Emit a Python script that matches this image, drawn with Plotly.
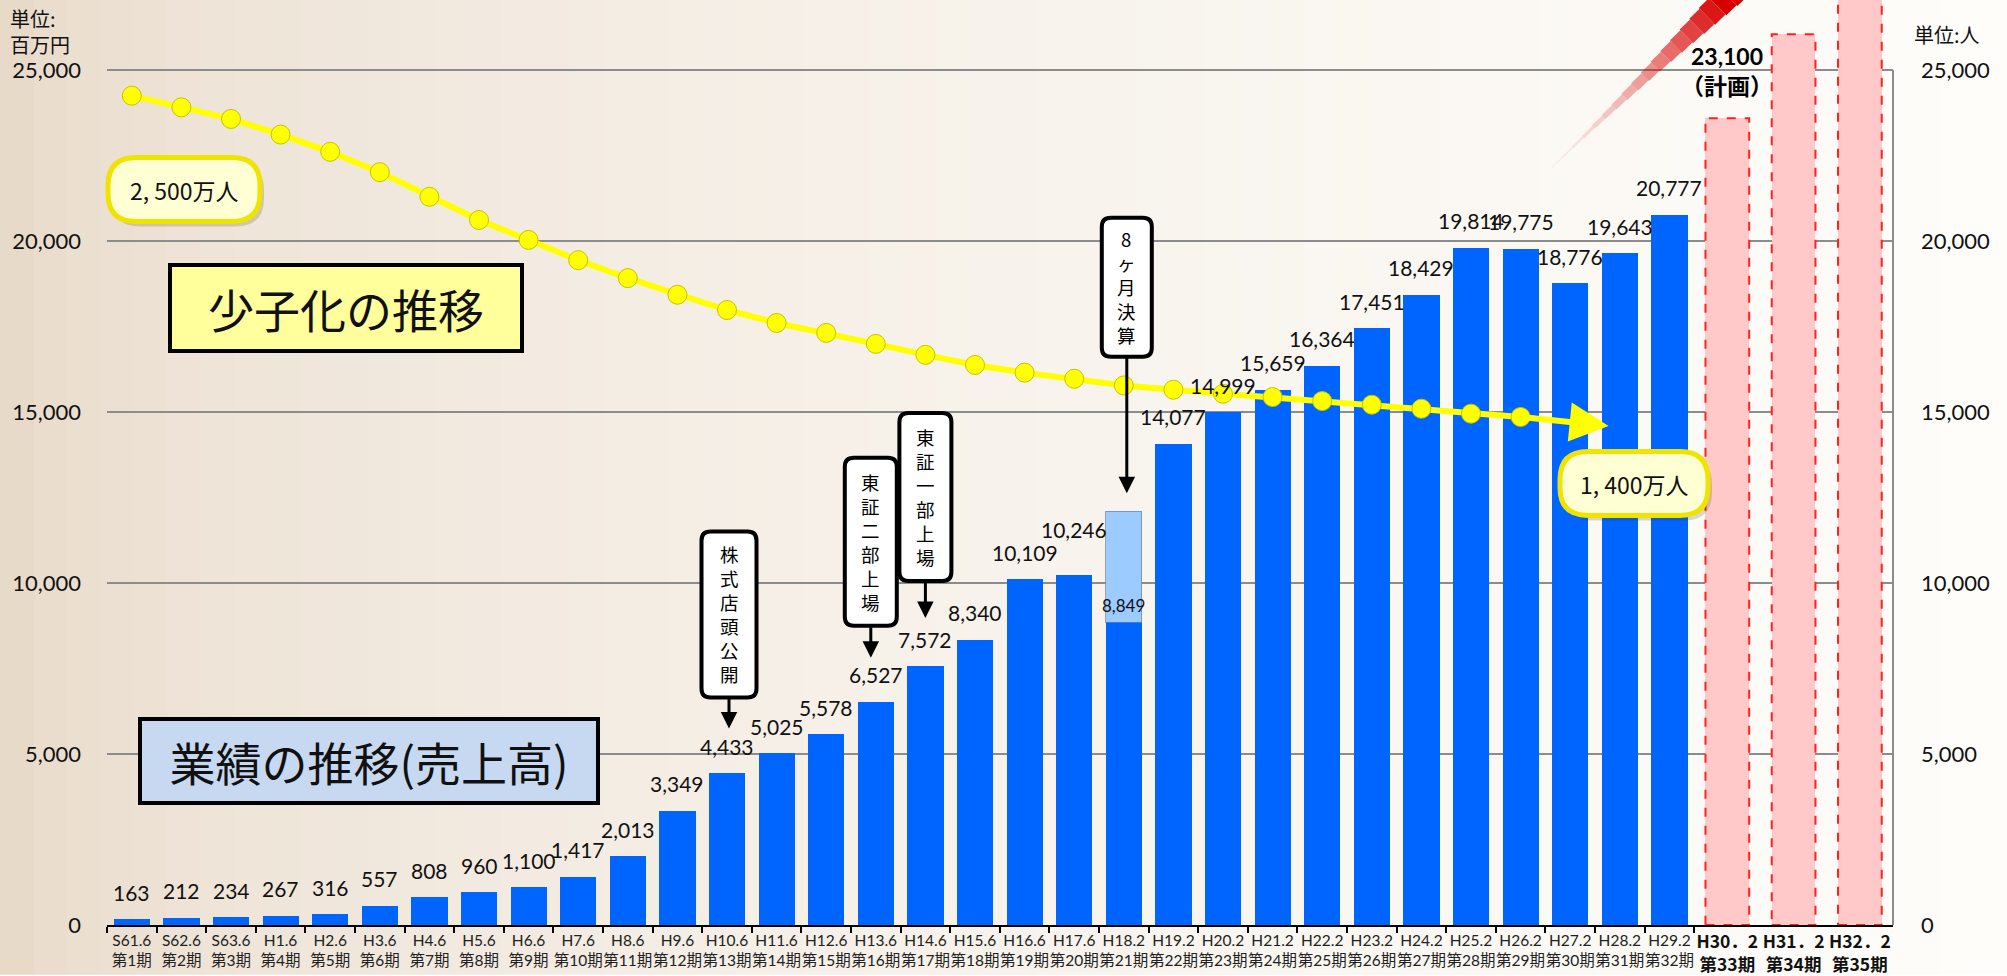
import plotly.graph_objects as go

# ---------------- data ----------------
periods = ["S61.6", "S62.6", "S63.6", "H1.6", "H2.6", "H3.6", "H4.6", "H5.6", "H6.6", "H7.6",
           "H8.6", "H9.6", "H10.6", "H11.6", "H12.6", "H13.6", "H14.6", "H15.6", "H16.6", "H17.6",
           "H18.2", "H19.2", "H20.2", "H21.2", "H22.2", "H23.2", "H24.2", "H25.2", "H26.2", "H27.2",
           "H28.2", "H29.2"]
terms = ["第1期", "第2期", "第3期", "第4期", "第5期", "第6期", "第7期", "第8期", "第9期", "第10期",
         "第11期", "第12期", "第13期", "第14期", "第15期", "第16期", "第17期", "第18期", "第19期", "第20期",
         "第21期", "第22期", "第23期", "第24期", "第25期", "第26期", "第27期", "第28期", "第29期", "第30期",
         "第31期", "第32期"]
sales = [163, 212, 234, 267, 316, 557, 808, 960, 1100, 1417,
         2013, 3349, 4433, 5025, 5578, 6527, 7572, 8340, 10109, 10246,
         8849, 14077, 14999, 15659, 16364, 17451, 18429, 19814, 19775, 18776,
         19643, 20777]

# 8-month fiscal period (H18.2): full-year-equivalent height drawn as light box
partial_period = "H18.2"
partial_full_height = 12100

plan_periods = ["H30．2", "H31．2", "H32．2"]
plan_terms = ["第33期", "第34期", "第35期"]
plan_values = [23600, 26050, 28500]
plan_label = "23,100"

# population trend (drawn on right axis scale), one point per period from S61.6 to H28.2
population = [24257, 23916, 23577, 23120, 22615, 22020, 21300, 20621, 20038, 19446,
              18921, 18435, 17988, 17609, 17318, 16997, 16676, 16381, 16157, 15977,
              15782, 15656, 15539, 15442, 15325, 15219, 15102, 14956, 14859]

y_ticks = [0, 5000, 10000, 15000, 20000, 25000]

# ---------------- geometry helpers (page pixels -> paper) ----------------
W, H = 2007, 976
PL, PR, PT, PB = 107, 1893, 0, 928
D1 = 32 * 49.6 / (PR - PL)
Y_MAX = (PB - PT) / 171.5 * 5000


def px(x):
    return (x - PL) / (PR - PL)


def py(y):
    return (PB - y) / (PB - PT)


def rr_path(cx, cy, w, h, r):
    x0, x1 = cx - w / 2, cx + w / 2
    y0, y1 = cy - h / 2, cy + h / 2
    return (f"M{x0 + r},{y0} L{x1 - r},{y0} Q{x1},{y0} {x1},{y0 + r} "
            f"L{x1},{y1 - r} Q{x1},{y1} {x1 - r},{y1} L{x0 + r},{y1} "
            f"Q{x0},{y1} {x0},{y1 - r} L{x0},{y0 + r} Q{x0},{y0} {x0 + r},{y0} Z")


LAT = "Lato, 'Noto Sans CJK JP', sans-serif"
JP = "'Noto Sans CJK JP', sans-serif"

fig = go.Figure()

# blue sales bars
fig.add_trace(go.Bar(x=periods, y=sales, width=0.73, marker=dict(color="#0064ff", line=dict(width=0)),
                     xaxis="x", yaxis="y", hoverinfo="skip"))
# light box for the 8 month period
extra = [partial_full_height - v if p == partial_period else None for p, v in zip(periods, sales)]
fig.add_trace(go.Bar(x=periods, y=extra, width=0.73,
                     marker=dict(color="#9ccbff", line=dict(width=1, color="rgba(110,130,160,0.7)")),
                     xaxis="x", yaxis="y", hoverinfo="skip"))
# planned bars
fig.add_trace(go.Bar(x=plan_periods, y=plan_values, width=0.66, marker=dict(color="#ffc9c9", line=dict(width=0)),
                     xaxis="x2", yaxis="y", hoverinfo="skip"))
# population line
fig.add_trace(go.Scatter(x=periods[:len(population)], y=population, mode="lines+markers",
                         line=dict(color="#ffff00", width=6),
                         marker=dict(size=19, color="#ffff00", line=dict(color="#c4c400", width=1)),
                         xaxis="x", yaxis="y2", hoverinfo="skip", cliponaxis=False))

shapes = []
annotations = []

# background gradient
N = 60
for k in range(N):
    t0, t1 = k / N, (k + 1) / N
    tm = (t0 + t1) / 2
    e = tm ** 0.45
    c = (229 + (254 - 229) * e, 213 + (253 - 213) * e, 195 + (250 - 195) * e)
    shapes.append(dict(type="rect", xref="paper", yref="paper", layer="below",
                       x0=px(t0 * W), x1=px(t1 * W + 1), y0=py(H + 2), y1=py(-2),
                       fillcolor=f"rgb({c[0]:.0f},{c[1]:.0f},{c[2]:.0f})", line=dict(width=0)))

# red streak
sx0, sy0, sx1, sy1 = 1552, 168, 1738, -14
M = 18
for k in range(M):
    a, b = k / M, (k + 1) / M
    tm = (a + b) / 2
    shapes.append(dict(type="line", xref="paper", yref="paper",
                       x0=px(sx0 + (sx1 - sx0) * a), y0=py(sy0 + (sy1 - sy0) * a),
                       x1=px(sx0 + (sx1 - sx0) * b), y1=py(sy0 + (sy1 - sy0) * b),
                       line=dict(color=f"rgba(214,0,0,{min(1, 0.06 + 1.1 * tm ** 1.7):.3f})",
                                 width=1 + 28 * tm ** 1.5)))

# right axis line (0..25000)
shapes.append(dict(type="line", xref="paper", yref="y", x0=1, x1=1, y0=0, y1=y_ticks[-1],
                   line=dict(color="#8c8c8c", width=2)))

# planned bar dashed outlines
for i, v in enumerate(plan_values):
    shapes.append(dict(type="rect", xref="x2", yref="y", x0=i - 0.33, x1=i + 0.33, y0=0, y1=v,
                       line=dict(color="#ff2020", width=2, dash="dash"), fillcolor="rgba(0,0,0,0)"))

# value labels
label_shift = {"H17.6": 45}
for p, v in zip(periods, sales):
    if p == partial_period:
        continue
    annotations.append(dict(x=p, y=v, xref="x", yref="y", text=f"{v:,}", showarrow=False,
                            yanchor="middle", yshift=label_shift.get(p, 27),
                            font=dict(family=LAT, size=21, color="#111")))
annotations.append(dict(x=partial_period, y=sales[periods.index(partial_period)], xref="x", yref="y",
                        text=f"{sales[periods.index(partial_period)]:,}", showarrow=False,
                        yanchor="middle", yshift=17, font=dict(family=LAT, size=17, color="#111")))
annotations.append(dict(x=plan_periods[0], y=plan_values[0], xref="x2", yref="y",
                        text=f"<b>{plan_label}</b><br><b>（計画）</b>", showarrow=False,
                        yanchor="bottom", yshift=16, font=dict(family=LAT, size=23, color="#000")))

# callouts (vertical text boxes with arrows)
callouts = [
    dict(text="株式店頭公開", period="H10.6", anchor=4433, dx=2, center=159, w=55, h=166, tail=76, tip=45),
    dict(text="東証二部上場", period="H13.6", anchor=6527, dx=-5, center=160, w=52, h=168, tail=76, tip=44),
    dict(text="東証一部上場", period="H14.6", anchor=7572, dx=0, center=169, w=52, h=168, tail=85, tip=48),
    dict(text="8ヶ月決算", period="H18.2", anchor=partial_full_height, dx=3, center=224, w=50, h=139, tail=155, tip=18),
]
for c in callouts:
    i = periods.index(c["period"])
    shapes.append(dict(type="path", xref="x", yref="y", xsizemode="pixel", ysizemode="pixel",
                       xanchor=i, yanchor=c["anchor"],
                       path=rr_path(c["dx"], c["center"], c["w"], c["h"], 9),
                       fillcolor="white", line=dict(color="black", width=4)))
    annotations.append(dict(x=i, y=c["anchor"], xref="x", yref="y", text="<br>".join(c["text"]),
                            showarrow=False, xshift=c["dx"], yshift=c["center"], yanchor="middle",
                            borderpad=0, font=dict(family=JP, size=18.5, color="#000")))
    annotations.append(dict(x=i, y=c["anchor"], xref="x", yref="y", text="", showarrow=True,
                            xshift=c["dx"], yshift=c["tip"], ax=0, ay=-(c["tail"] - c["tip"]),
                            arrowhead=2, arrowsize=1.1, arrowwidth=3, arrowcolor="black", standoff=0))

# population arrow at the end
annotations.append(dict(x=len(population) - 1, y=population[-1], xref="x", yref="y2", text="",
                        showarrow=True, xshift=88, yshift=-9, ax=-88, ay=-9, axref="pixel", ayref="pixel",
                        arrowhead=2, arrowsize=1.3, arrowwidth=6, arrowcolor="#ffff00", standoff=0))

# bubbles
for cx, cy, w, h, txt in [(184, 190, 152, 64, "2, 500万人"), (1634, 485, 148, 64, "1, 400万人")]:
    shapes.append(dict(type="path", xref="paper", yref="paper", xsizemode="pixel", ysizemode="pixel",
                       xanchor=px(cx), yanchor=py(cy), path=rr_path(4, -5, w, h, 28),
                       fillcolor="rgba(60,50,30,0.18)", line=dict(width=0)))
    shapes.append(dict(type="path", xref="paper", yref="paper", xsizemode="pixel", ysizemode="pixel",
                       xanchor=px(cx), yanchor=py(cy), path=rr_path(0, 0, w, h, 28),
                       fillcolor="#ffffd4", line=dict(color="#efe300", width=5)))
    annotations.append(dict(x=px(cx), y=py(cy + 1), xref="paper", yref="paper", text=txt, showarrow=False,
                            xanchor="center", yanchor="middle", font=dict(family=JP, size=23, color="#111")))

# title boxes
annotations.append(dict(x=px(346), y=py(309), xref="paper", yref="paper", text="少子化の推移", showarrow=False,
                        xanchor="center", yanchor="middle", width=348, height=82, borderpad=0,
                        bgcolor="#ffff9c", bordercolor="black", borderwidth=4,
                        font=dict(family=JP, size=46, color="#111")))
annotations.append(dict(x=px(369), y=py(763), xref="paper", yref="paper", text="業績の推移(売上高)", showarrow=False,
                        xanchor="center", yanchor="middle", width=454, height=80, borderpad=0,
                        bgcolor="#c6d9f1", bordercolor="black", borderwidth=4,
                        font=dict(family=JP, size=46, color="#111")))

# unit labels
annotations.append(dict(x=px(8), y=py(2), xref="paper", yref="paper", text="単位:<br>百万円", showarrow=False,
                        xanchor="left", yanchor="top", align="left",
                        font=dict(family=JP, size=20, color="#111")))
annotations.append(dict(x=px(1912), y=py(35), xref="paper", yref="paper", text="単位:人", showarrow=False,
                        xanchor="left", yanchor="middle", font=dict(family=JP, size=20, color="#111")))

fig.update_layout(
    width=W, height=H, autosize=False,
    margin=dict(l=PL, r=W - PR, t=PT, b=H - PB, pad=0),
    paper_bgcolor="white", plot_bgcolor="rgba(0,0,0,0)",
    barmode="stack", showlegend=False,
    shapes=shapes, annotations=annotations,
    xaxis=dict(type="category", domain=[0, D1], range=[-0.5, len(periods) - 0.5],
               categoryorder="array", categoryarray=periods,
               tickmode="array", tickvals=periods, ticktext=[f"{p}<br>{t}" for p, t in zip(periods, terms)],
               ticks="outside", tickson="boundaries", ticklen=6, tickwidth=2, tickcolor="black",
               tickangle=0, showline=True, linecolor="black", linewidth=2, showgrid=False, anchor="y",
               tickfont=dict(family=LAT, size=15.5, color="#222")),
    xaxis2=dict(type="category", domain=[D1, 1], range=[-0.5, len(plan_periods) - 0.5],
                categoryorder="array", categoryarray=plan_periods,
                tickmode="array", tickvals=plan_periods,
                ticktext=[f"<b>{p}</b><br><b>{t}</b>" for p, t in zip(plan_periods, plan_terms)],
                ticks="", tickangle=0, showline=True, linecolor="black", linewidth=2, showgrid=False, anchor="y",
                tickfont=dict(family=JP, size=17.5, color="#111")),
    yaxis=dict(range=[0, Y_MAX], tickmode="array", tickvals=y_ticks, tickformat=",d",
               showgrid=True, gridcolor="#8c8c8c", gridwidth=2, zeroline=False, showline=False, ticks="",
               ticklabelstandoff=25, tickfont=dict(family=LAT, size=22, color="#111")),
    yaxis2=dict(range=[0, Y_MAX], tickmode="array", tickvals=y_ticks, tickformat=",d",
                overlaying="y", side="right", anchor="free", position=1,
                showgrid=False, zeroline=False, showline=False, ticks="",
                ticklabelstandoff=27, tickfont=dict(family=LAT, size=22, color="#111")),
)

fig.write_html("out.html", config={"displayModeBar": False},
               post_script="document.body.style.margin='0';")
